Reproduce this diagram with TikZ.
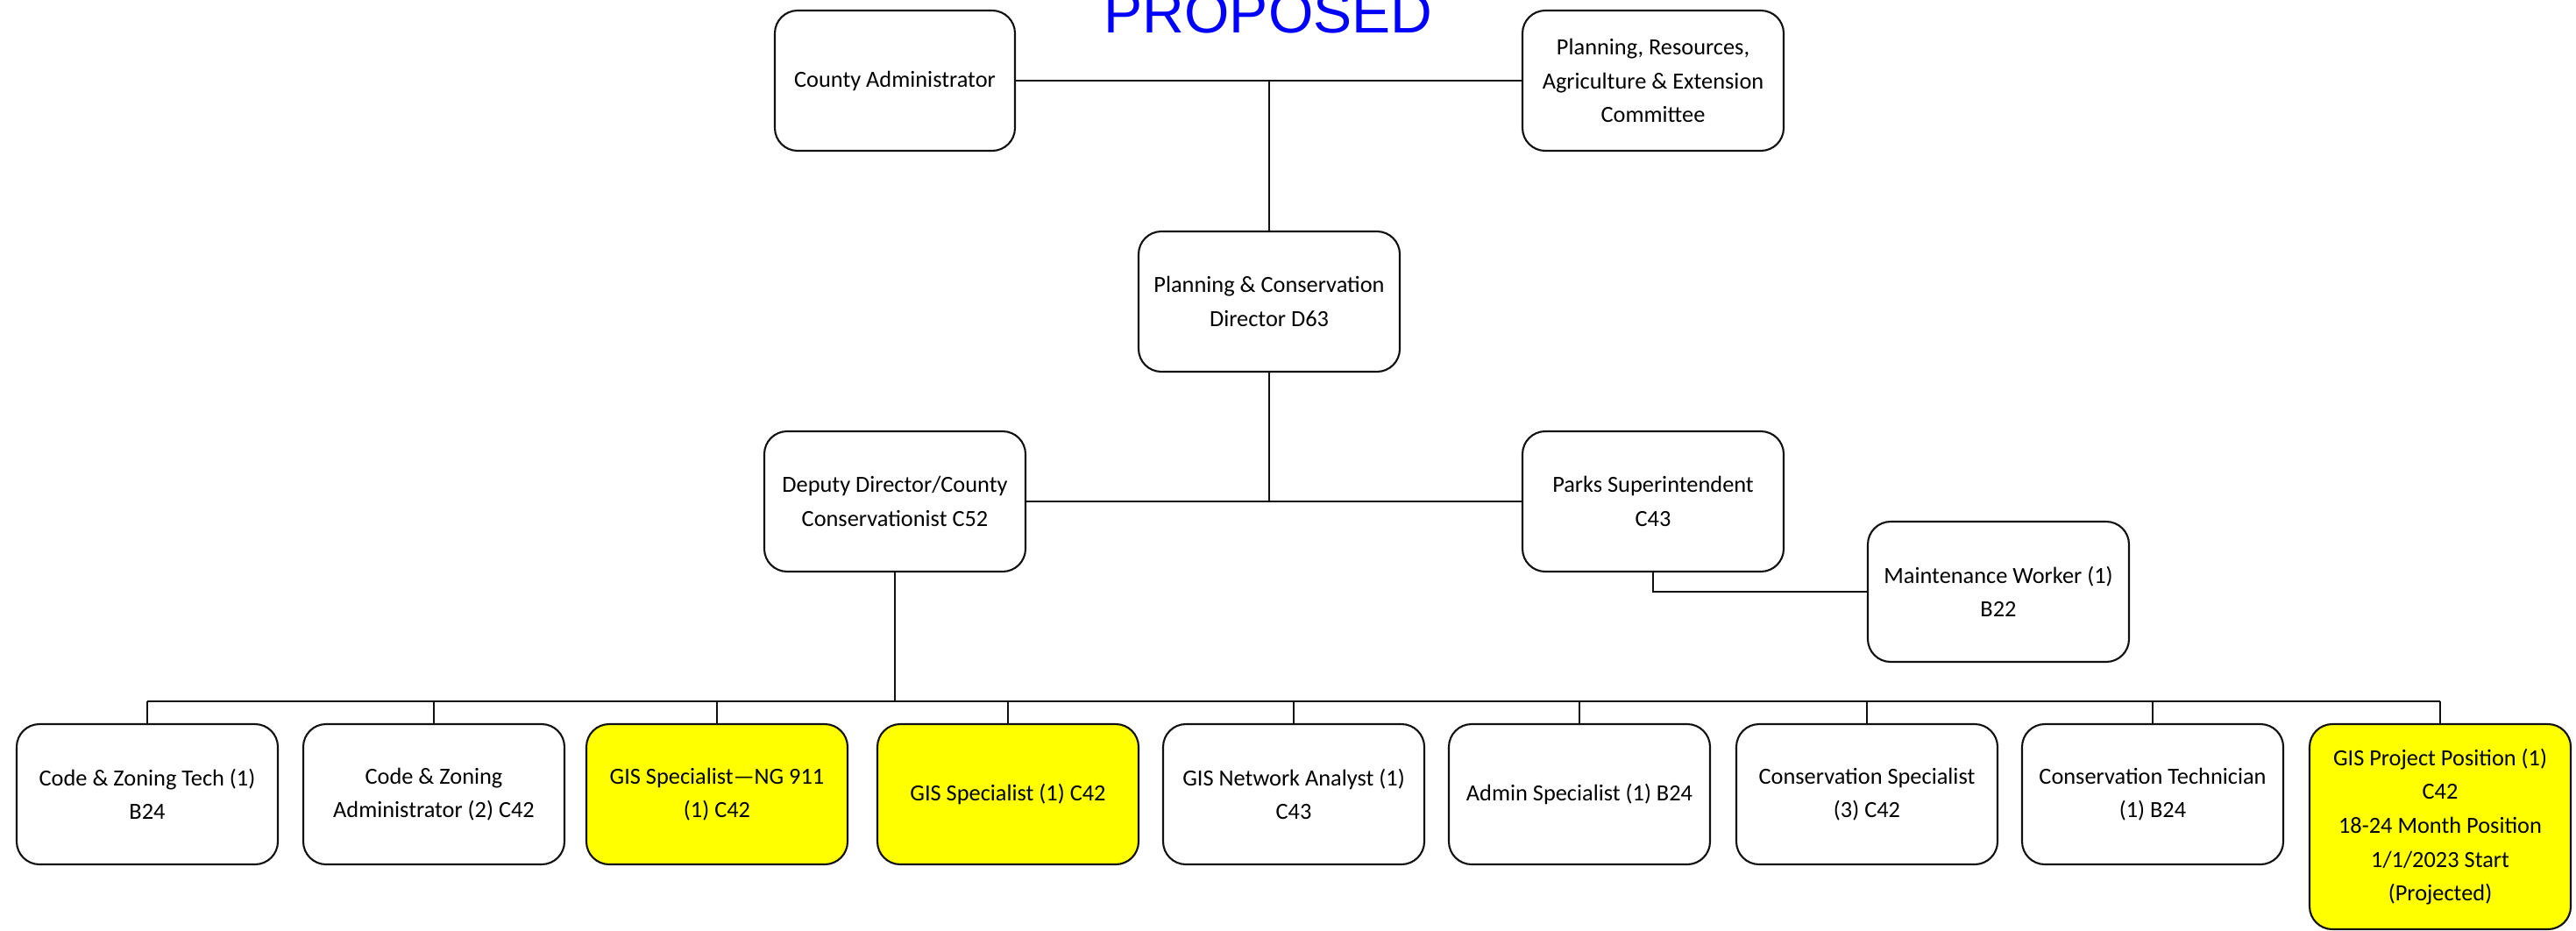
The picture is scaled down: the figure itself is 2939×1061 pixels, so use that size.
\documentclass[tikz,border=0pt]{standalone}
\usepackage{fontspec}
\setmainfont{Carlito}
\newfontfamily\proposedfont{Liberation Sans}
\definecolor{orgyellow}{HTML}{FFFF00}
\definecolor{orgblue}{HTML}{0000FF}
\definecolor{orgfg}{HTML}{111111}

\begin{document}
\begin{tikzpicture}[x=0.1mm,y=-0.1mm,font=\fontsize{7.5}{11}\selectfont]
  \tikzstyle{post}=[draw=orgfg, line width=0.6pt, rounded corners=2.6mm, minimum width=29.8mm, minimum height=16mm, align=center, inner sep=0pt]
  \tikzstyle{newpost}=[post, fill=orgyellow]
  \tikzstyle{link}=[draw=orgfg, line width=0.6pt]

  \useasboundingbox (0,0) rectangle (2939,1061);
  \node[font=\proposedfont\fontsize{18.8}{20}\selectfont, text=orgblue, anchor=base] (title) at (1447,37) {PROPOSED};

  \node[post, minimum width=27.4mm] (admin) at (1021,92) {County Administrator};
  \node[post] (committee) at (1886,92) {Planning, Resources,\\Agriculture \& Extension\\Committee};
  \node[post] (director) at (1448,344) {Planning \& Conservation\\Director D63};
  \node[post] (deputy) at (1021,572) {Deputy Director/County\\Conservationist C52};
  \node[post] (parks) at (1886,572) {Parks Superintendent\\C43};
  \node[post] (maint) at (2280,675) {Maintenance Worker (1)\\B22};

  \node[post] (b1) at (168,906) {Code \& Zoning Tech (1)\\B24};
  \node[post] (b2) at (495,906) {Code \& Zoning\\Administrator (2) C42};
  \node[newpost] (b3) at (818,906) {GIS Specialist—NG 911\\(1) C42};
  \node[newpost] (b4) at (1150,906) {GIS Specialist (1) C42};
  \node[post] (b5) at (1476,906) {GIS Network Analyst (1)\\C43};
  \node[post] (b6) at (1802,906) {Admin Specialist (1) B24};
  \node[post] (b7) at (2130,906) {Conservation Specialist\\(3) C42};
  \node[post] (b8) at (2456,906) {Conservation Technician\\(1) B24};
  \node[newpost, minimum height=23.4mm] (b9) at (2784,943) {GIS Project Position (1)\\C42\\18-24 Month Position\\1/1/2023 Start\\(Projected)};

  \coordinate (bus) at (0,800);
  \draw[link] (admin.east) -- (committee.west);
  \draw[link] (director.north) -- (director.north |- admin.east);
  \draw[link] (director.south) -- (director.south |- deputy.east);
  \draw[link] (deputy.east) -- (parks.west);
  \draw[link] (parks.south) |- (maint.west);
  \draw[link] (deputy.south) -- (deputy.south |- bus);
  \draw[link] (b1.north |- bus) -- (b9.north |- bus);
  \foreach \n in {1,...,9} {
    \draw[link] (b\n.north) -- (b\n.north |- bus);
  }
\end{tikzpicture}
\end{document}
